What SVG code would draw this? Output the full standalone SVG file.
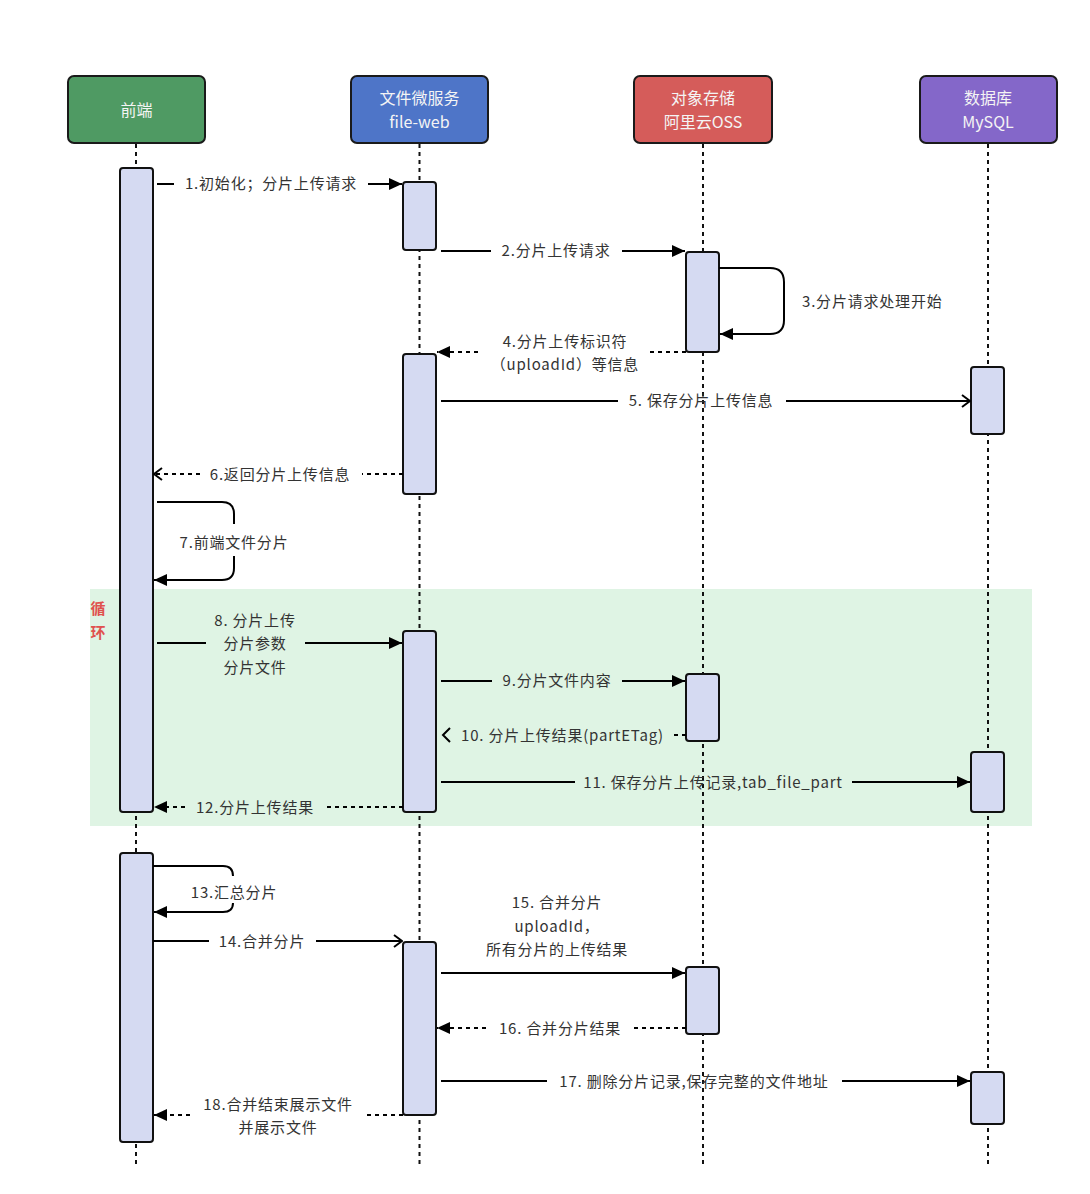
<svg xmlns="http://www.w3.org/2000/svg" width="1090" height="1194" viewBox="0 0 1090 1194">
<defs>
<style>
.hdr{stroke:#1a1a1a;stroke-width:2}
.ht{font-family:"Noto Sans CJK SC","Noto Sans",sans-serif;font-size:16px;fill:#f4f4f4;text-anchor:middle}
.life{stroke:#111;stroke-width:2;stroke-dasharray:4 4;fill:none}
.bar{fill:#d5daf2;stroke:#111;stroke-width:2}
.sol{stroke:#000;stroke-width:2;fill:none}
.dsh{stroke:#000;stroke-width:2;fill:none;stroke-dasharray:4 4}
.lb{font-family:"Noto Sans CJK SC","Noto Sans",sans-serif;font-size:15px;letter-spacing:0.8px;fill:#333;text-anchor:middle}
.lbl{font-family:"Noto Sans CJK SC","Noto Sans",sans-serif;font-size:15px;letter-spacing:0.8px;fill:#333}
.loopt{font-family:"Noto Sans CJK SC","Noto Sans",sans-serif;font-size:15px;font-weight:bold;fill:#e0514e;text-anchor:middle}
</style>
<marker id="af" viewBox="0 0 13 12" refX="13" refY="6" markerWidth="13" markerHeight="12" markerUnits="userSpaceOnUse" orient="auto">
<path d="M0,0 L13,6 L0,12 Z" fill="#000"/>
</marker>
<marker id="ao" viewBox="0 0 10 14" refX="9" refY="7" markerWidth="10" markerHeight="14" markerUnits="userSpaceOnUse" orient="auto">
<path d="M1,1 L9,7 L1,13" fill="none" stroke="#000" stroke-width="2"/>
</marker>
</defs>
<rect width="1090" height="1194" fill="#fff"/>

<g id="loop">
<rect x="90" y="589" width="942" height="237" fill="#dff4e4"/>
<text class="loopt" x="98" y="614">循</text>
<text class="loopt" x="98" y="638">环</text>
</g>

<g id="lifelines">
<line class="life" x1="136" y1="144" x2="136" y2="1164"/>
<line class="life" x1="419.5" y1="144" x2="419.5" y2="1164"/>
<line class="life" x1="703" y1="144" x2="703" y2="1164"/>
<line class="life" x1="988" y1="144" x2="988" y2="1164"/>
</g>

<g id="node-frontend">
<rect class="hdr" x="68" y="76" width="137" height="67" rx="6" fill="#4f9a63"/>
<text class="ht" x="136.5" y="116">前端</text>
</g>
<g id="node-fileweb">
<rect class="hdr" x="351" y="76" width="137" height="67" rx="6" fill="#4e75c8"/>
<text class="ht" x="419.5" y="104">文件微服务</text>
<text class="ht" x="419.5" y="128">file-web</text>
</g>
<g id="node-oss">
<rect class="hdr" x="634" y="76" width="138" height="67" rx="6" fill="#d55c5a"/>
<text class="ht" x="703" y="104">对象存储</text>
<text class="ht" x="703" y="128">阿里云OSS</text>
</g>
<g id="node-mysql">
<rect class="hdr" x="920" y="76" width="137" height="67" rx="6" fill="#8467c9"/>
<text class="ht" x="988" y="104">数据库</text>
<text class="ht" x="988" y="128">MySQL</text>
</g>

<g id="activations">
<rect class="bar" x="120" y="168" width="33" height="644" rx="3"/>
<rect class="bar" x="120" y="853" width="33" height="289" rx="3"/>
<rect class="bar" x="403" y="182" width="33" height="68" rx="3"/>
<rect class="bar" x="403" y="354" width="33" height="140" rx="3"/>
<rect class="bar" x="403" y="631" width="33" height="181" rx="3"/>
<rect class="bar" x="403" y="942" width="33" height="173" rx="3"/>
<rect class="bar" x="686" y="252" width="33" height="100" rx="3"/>
<rect class="bar" x="686" y="674" width="33" height="67" rx="3"/>
<rect class="bar" x="686" y="967" width="33" height="67" rx="3"/>
<rect class="bar" x="971" y="367" width="33" height="67" rx="3"/>
<rect class="bar" x="971" y="752" width="33" height="60" rx="3"/>
<rect class="bar" x="971" y="1072" width="33" height="52" rx="3"/>
</g>

<g id="connectors">
<!-- 1 -->
<path class="sol" d="M157,184 H174"/>
<path class="sol" d="M368,184 H402" marker-end="url(#af)"/>
<!-- 2 -->
<path class="sol" d="M441,251 H491"/>
<path class="sol" d="M622,251 H685" marker-end="url(#af)"/>
<!-- 3 -->
<path class="sol" d="M719,268 H770 Q784,268 784,282 V320 Q784,334 770,334 H720" marker-end="url(#af)"/>
<!-- 4 -->
<path class="dsh" d="M686,352 H650"/>
<path class="dsh" d="M478,352 H437" marker-end="url(#af)"/>
<!-- 5 -->
<path class="sol" d="M441,401 H618"/>
<path class="sol" d="M786,401 H970" marker-end="url(#ao)"/>
<!-- 6 -->
<path class="dsh" d="M403,474 H362"/>
<path class="dsh" d="M200,474 H154" marker-end="url(#ao)"/>
<!-- 7 -->
<path class="sol" d="M157,502 H222 Q234,502 234,514 V524"/>
<path class="sol" d="M234,556 V568 Q234,580 222,580 H154" marker-end="url(#af)"/>
<!-- 8 -->
<path class="sol" d="M157,643 H206"/>
<path class="sol" d="M305,643 H402" marker-end="url(#af)"/>
<!-- 9 -->
<path class="sol" d="M441,681 H492"/>
<path class="sol" d="M622,681 H685" marker-end="url(#af)"/>
<!-- 10 -->
<path class="dsh" d="M686,735 H672"/>
<path d="M450,728 L443,735 L450,742" fill="none" stroke="#000" stroke-width="2"/>
<!-- 11 -->
<path class="sol" d="M441,782 H575"/>
<path class="sol" d="M852,782 H970" marker-end="url(#af)"/>
<!-- 12 -->
<path class="dsh" d="M403,807 H324"/>
<path class="dsh" d="M185,807 H154" marker-end="url(#af)"/>
<!-- 13 -->
<path class="sol" d="M153,866 H223 Q233,866 233,876"/>
<path class="sol" d="M233,903 Q233,912 223,912 H154" marker-end="url(#af)"/>
<!-- 14 -->
<path class="sol" d="M153,941 H209"/>
<path class="sol" d="M316,941 H402" marker-end="url(#ao)"/>
<!-- 15 -->
<path class="sol" d="M441,973 H685" marker-end="url(#af)"/>
<!-- 16 -->
<path class="dsh" d="M686,1028 H632"/>
<path class="dsh" d="M486,1028 H437" marker-end="url(#af)"/>
<!-- 17 -->
<path class="sol" d="M441,1081 H547"/>
<path class="sol" d="M842,1081 H970" marker-end="url(#af)"/>
<!-- 18 -->
<path class="dsh" d="M403,1115 H365"/>
<path class="dsh" d="M190,1115 H154" marker-end="url(#af)"/>
</g>

<g id="labels">
<text class="lb" x="271" y="189">1.初始化；分片上传请求</text>
<text class="lb" x="556" y="256">2.分片上传请求</text>
<text class="lbl" x="802" y="307">3.分片请求处理开始</text>
<text class="lb" x="565" y="347">4.分片上传标识符</text>
<text class="lb" x="565" y="370">（uploadId）等信息</text>
<text class="lb" x="701" y="406">5. 保存分片上传信息</text>
<text class="lb" x="280" y="480">6.返回分片上传信息</text>
<text class="lb" x="234" y="548">7.前端文件分片</text>
<text class="lb" x="255" y="626">8. 分片上传</text>
<text class="lb" x="255" y="649">分片参数</text>
<text class="lb" x="255" y="673">分片文件</text>
<text class="lb" x="557" y="686">9.分片文件内容</text>
<text class="lbl" x="461" y="741">10. 分片上传结果(partETag)</text>
<text class="lb" x="713" y="788">11. 保存分片上传记录,tab_file_part</text>
<text class="lb" x="255" y="813">12.分片上传结果</text>
<text class="lb" x="234" y="898">13.汇总分片</text>
<text class="lb" x="262" y="947">14.合并分片</text>
<text class="lb" x="557" y="908">15. 合并分片</text>
<text class="lb" x="557" y="932">uploadId，</text>
<text class="lb" x="557" y="955">所有分片的上传结果</text>
<text class="lb" x="560" y="1034">16. 合并分片结果</text>
<text class="lb" x="694" y="1087">17. 删除分片记录,保存完整的文件地址</text>
<text class="lb" x="278" y="1110">18.合并结束展示文件</text>
<text class="lb" x="278" y="1133">并展示文件</text>
</g>
</svg>
